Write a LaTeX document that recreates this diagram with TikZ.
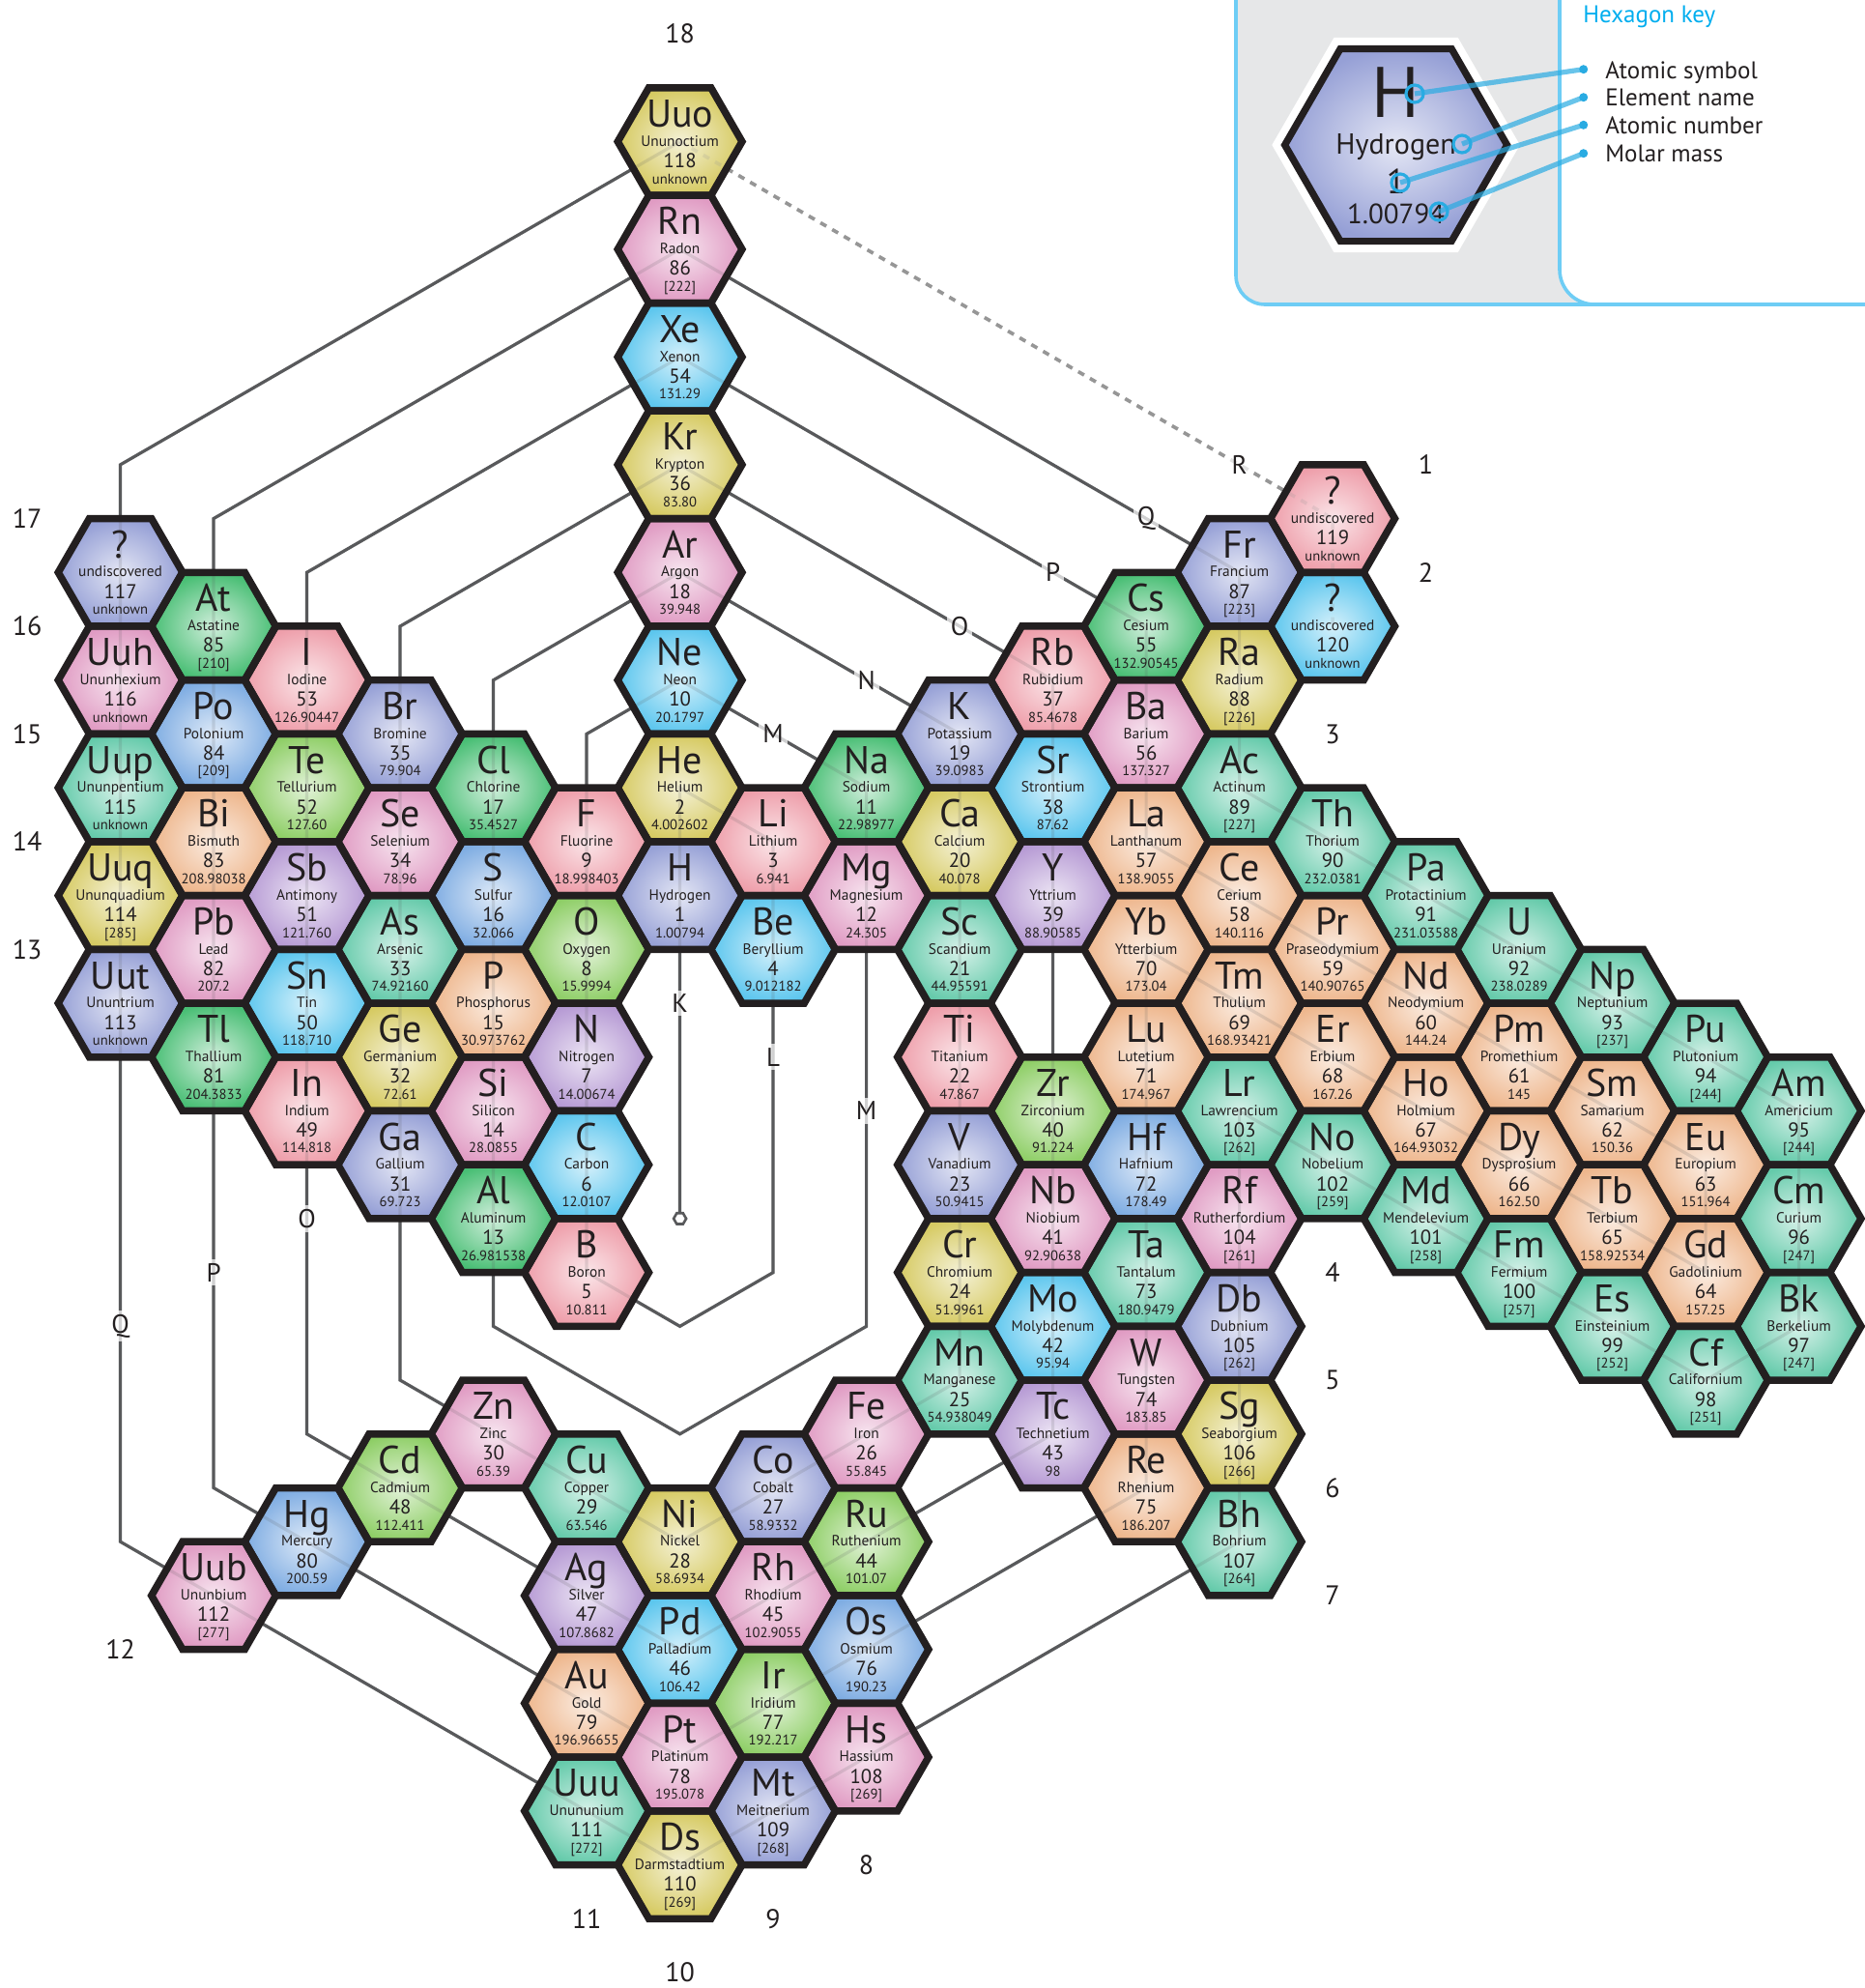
\documentclass[tikz,border=0pt]{standalone}
\usepackage{fontspec}
\setmainfont{PT Sans}
\usetikzlibrary{shapes.geometric}
\definecolor{pinkC}{RGB}{224,155,195}
\definecolor{salmonC}{RGB}{238,158,170}
\definecolor{yellowC}{RGB}{214,202,98}
\definecolor{cyanC}{RGB}{92,198,238}
\definecolor{skyC}{RGB}{126,172,226}
\definecolor{lavC}{RGB}{150,160,214}
\definecolor{purpC}{RGB}{182,154,212}
\definecolor{limeC}{RGB}{142,206,102}
\definecolor{greenC}{RGB}{72,190,116}
\definecolor{mintC}{RGB}{100,202,170}
\definecolor{orangeC}{RGB}{238,182,140}
\definecolor{hexline}{RGB}{35,31,32}
\definecolor{connC}{RGB}{88,89,91}
\definecolor{dashC}{RGB}{150,150,150}
\definecolor{keyline}{RGB}{110,205,245}
\definecolor{keygray}{RGB}{230,231,232}
\definecolor{keycyan}{RGB}{0,174,239}
\definecolor{ptrC}{RGB}{41,171,226}
\def\elemlist{%
0/0/118/Uuo/Ununoctium/unknown/yellowC,
0/2/86/Rn/Radon/[222]/pinkC,
0/4/54/Xe/Xenon/131.29/cyanC,
0/6/36/Kr/Krypton/83.80/yellowC,
0/8/18/Ar/Argon/39.948/pinkC,
0/10/10/Ne/Neon/20.1797/cyanC,
0/12/2/He/Helium/4.002602/yellowC,
0/14/1/H/Hydrogen/1.00794/lavC,
0/26/28/Ni/Nickel/58.6934/yellowC,
0/28/46/Pd/Palladium/106.42/cyanC,
0/30/78/Pt/Platinum/195.078/pinkC,
0/32/110/Ds/Darmstadtium/[269]/yellowC,
1/13/3/Li/Lithium/6.941/salmonC,
1/15/4/Be/Beryllium/9.012182/cyanC,
1/25/27/Co/Cobalt/58.9332/lavC,
1/27/45/Rh/Rhodium/102.9055/pinkC,
1/29/77/Ir/Iridium/192.217/limeC,
1/31/109/Mt/Meitnerium/[268]/lavC,
-1/13/9/F/Fluorine/18.998403/salmonC,
-1/15/8/O/Oxygen/15.9994/limeC,
-1/17/7/N/Nitrogen/14.00674/purpC,
-1/19/6/C/Carbon/12.0107/cyanC,
-1/21/5/B/Boron/10.811/salmonC,
-1/25/29/Cu/Copper/63.546/mintC,
-1/27/47/Ag/Silver/107.8682/purpC,
-1/29/79/Au/Gold/196.96655/orangeC,
-1/31/111/Uuu/Unununium/[272]/mintC,
2/12/11/Na/Sodium/22.98977/greenC,
2/14/12/Mg/Magnesium/24.305/pinkC,
2/24/26/Fe/Iron/55.845/pinkC,
2/26/44/Ru/Ruthenium/101.07/limeC,
2/28/76/Os/Osmium/190.23/skyC,
2/30/108/Hs/Hassium/[269]/pinkC,
3/11/19/K/Potassium/39.0983/lavC,
3/13/20/Ca/Calcium/40.078/yellowC,
3/15/21/Sc/Scandium/44.95591/mintC,
3/17/22/Ti/Titanium/47.867/salmonC,
3/19/23/V/Vanadium/50.9415/lavC,
3/21/24/Cr/Chromium/51.9961/yellowC,
3/23/25/Mn/Manganese/54.938049/mintC,
4/10/37/Rb/Rubidium/85.4678/salmonC,
4/12/38/Sr/Strontium/87.62/cyanC,
4/14/39/Y/Yttrium/88.90585/purpC,
4/18/40/Zr/Zirconium/91.224/limeC,
4/20/41/Nb/Niobium/92.90638/pinkC,
4/22/42/Mo/Molybdenum/95.94/cyanC,
4/24/43/Tc/Technetium/98/purpC,
5/9/55/Cs/Cesium/132.90545/greenC,
5/11/56/Ba/Barium/137.327/pinkC,
5/13/57/La/Lanthanum/138.9055/orangeC,
5/15/70/Yb/Ytterbium/173.04/orangeC,
5/17/71/Lu/Lutetium/174.967/orangeC,
5/19/72/Hf/Hafnium/178.49/skyC,
5/21/73/Ta/Tantalum/180.9479/mintC,
5/23/74/W/Tungsten/183.85/pinkC,
5/25/75/Re/Rhenium/186.207/orangeC,
6/8/87/Fr/Francium/[223]/lavC,
6/10/88/Ra/Radium/[226]/yellowC,
6/12/89/Ac/Actinum/[227]/mintC,
6/14/58/Ce/Cerium/140.116/orangeC,
6/16/69/Tm/Thulium/168.93421/orangeC,
6/18/103/Lr/Lawrencium/[262]/mintC,
6/20/104/Rf/Rutherfordium/[261]/pinkC,
6/22/105/Db/Dubnium/[262]/lavC,
6/24/106/Sg/Seaborgium/[266]/yellowC,
6/26/107/Bh/Bohrium/[264]/mintC,
7/7/119/?/undiscovered/unknown/salmonC,
7/9/120/?/undiscovered/unknown/cyanC,
7/13/90/Th/Thorium/232.0381/mintC,
7/15/59/Pr/Praseodymium/140.90765/orangeC,
7/17/68/Er/Erbium/167.26/orangeC,
7/19/102/No/Nobelium/[259]/mintC,
8/14/91/Pa/Protactinium/231.03588/mintC,
8/16/60/Nd/Neodymium/144.24/orangeC,
8/18/67/Ho/Holmium/164.93032/orangeC,
8/20/101/Md/Mendelevium/[258]/mintC,
9/15/92/U/Uranium/238.0289/mintC,
9/17/61/Pm/Promethium/145/orangeC,
9/19/66/Dy/Dysprosium/162.50/orangeC,
9/21/100/Fm/Fermium/[257]/mintC,
10/16/93/Np/Neptunium/[237]/mintC,
10/18/62/Sm/Samarium/150.36/orangeC,
10/20/65/Tb/Terbium/158.92534/orangeC,
10/22/99/Es/Einsteinium/[252]/mintC,
11/17/94/Pu/Plutonium/[244]/mintC,
11/19/63/Eu/Europium/151.964/orangeC,
11/21/64/Gd/Gadolinium/157.25/orangeC,
11/23/98/Cf/Californium/[251]/mintC,
12/18/95/Am/Americium/[244]/mintC,
12/20/96/Cm/Curium/[247]/mintC,
12/22/97/Bk/Berkelium/[247]/mintC,
-2/12/17/Cl/Chlorine/35.4527/greenC,
-2/14/16/S/Sulfur/32.066/skyC,
-2/16/15/P/Phosphorus/30.973762/orangeC,
-2/18/14/Si/Silicon/28.0855/pinkC,
-2/20/13/Al/Aluminum/26.981538/greenC,
-2/24/30/Zn/Zinc/65.39/pinkC,
-3/11/35/Br/Bromine/79.904/lavC,
-3/13/34/Se/Selenium/78.96/pinkC,
-3/15/33/As/Arsenic/74.92160/mintC,
-3/17/32/Ge/Germanium/72.61/yellowC,
-3/19/31/Ga/Gallium/69.723/lavC,
-3/25/48/Cd/Cadmium/112.411/limeC,
-4/10/53/I/Iodine/126.90447/salmonC,
-4/12/52/Te/Tellurium/127.60/limeC,
-4/14/51/Sb/Antimony/121.760/purpC,
-4/16/50/Sn/Tin/118.710/cyanC,
-4/18/49/In/Indium/114.818/salmonC,
-4/26/80/Hg/Mercury/200.59/skyC,
-5/9/85/At/Astatine/[210]/greenC,
-5/11/84/Po/Polonium/[209]/skyC,
-5/13/83/Bi/Bismuth/208.98038/orangeC,
-5/15/82/Pb/Lead/207.2/pinkC,
-5/17/81/Tl/Thallium/204.3833/greenC,
-5/27/112/Uub/Ununbium/[277]/pinkC,
-6/8/117/?/undiscovered/unknown/lavC,
-6/10/116/Uuh/Ununhexium/unknown/pinkC,
-6/12/115/Uup/Ununpentium/unknown/mintC,
-6/14/114/Uuq/Ununquadium/[285]/yellowC,
-6/16/113/Uut/Ununtrium/unknown/lavC}
\newcommand\drawseq[1]{%
\draw[#1] (k0) -- (e1) -- (e2) -- (e3) -- (e4) -- (l1) -- (l2)
  \foreach \i in {5,...,9}{ -- (e\i)} -- (f1)
  \foreach \i in {10,11,12}{ -- (e\i)} -- (m1) -- (m2) -- (m3)
  \foreach \i in {13,...,17}{ -- (e\i)} -- (cl1)
  \foreach \i in {18,...,30}{ -- (e\i)} -- (zn1)
  \foreach \i in {31,...,35}{ -- (e\i)} -- (br1)
  \foreach \i in {36,...,48}{ -- (e\i)} -- (cd1)
  \foreach \i in {49,...,53}{ -- (e\i)} -- (i1)
  \foreach \i in {54,...,80}{ -- (e\i)} -- (hg1)
  \foreach \i in {81,...,85}{ -- (e\i)} -- (at1)
  \foreach \i in {86,...,112}{ -- (e\i)} -- (ub1)
  \foreach \i in {113,...,117}{ -- (e\i)} -- (q1) -- (e118);}
\begin{document}
\begin{tikzpicture}[x=48.25pt,y=-27.86pt,
  conn/.style={draw=connC,line width=1.6pt,line join=miter},
  connfaint/.style={draw=connC,line width=1.6pt,line join=miter,draw opacity=0.16},
  dashconn/.style={draw=dashC,line width=1.8pt,dash pattern=on 3.5pt off 3.5pt},
  hexborder/.style={draw=hexline,line width=3.75pt,line join=miter},
  symf/.style={anchor=base,inner sep=0pt,text=hexline,font=\fontsize{20}{20}\selectfont},
  namef/.style={anchor=base,inner sep=0pt,text=hexline,font=\fontsize{7.7}{8}\selectfont},
  numf/.style={anchor=base,inner sep=0pt,text=hexline,font=\fontsize{10.4}{11}\selectfont},
  massf/.style={anchor=base,inner sep=0pt,text=hexline,font=\fontsize{7.3}{8}\selectfont},
  grpf/.style={inner sep=0pt,text=hexline,font=\fontsize{14}{14}\selectfont},
  shelllbl/.style={inner sep=2pt,text=hexline,fill=white,fill opacity=0.72,text opacity=1,font=\fontsize{13.5}{14}\selectfont},
  keytxt/.style={anchor=base west,inner sep=0pt,text=hexline,font=\fontsize{12.5}{13}\selectfont},
  ptrline/.style={draw=ptrC,line width=2.6pt,draw opacity=0.7}]
\path[use as bounding box] (-7.2912,-2.6292) rectangle (12.7088,34.2875);
% coordinates
\foreach \c/\r/\n/\s/\nm/\m/\col in \elemlist {\coordinate (e\n) at (\c,\r);}
\coordinate (k0) at (0,20);
\coordinate (l1) at (1,21);
\coordinate (l2) at (0,22);
\coordinate (f1) at (-1,11);
\coordinate (m1) at (2,22);
\coordinate (m2) at (0,24);
\coordinate (m3) at (-2,22);
\coordinate (cl1) at (-2,10);
\coordinate (zn1) at (-3,23);
\coordinate (br1) at (-3,9);
\coordinate (cd1) at (-4,24);
\coordinate (i1) at (-4,8);
\coordinate (hg1) at (-5,25);
\coordinate (at1) at (-5,7);
\coordinate (ub1) at (-6,26);
\coordinate (q1) at (-6,6);
% connectors underneath
\drawseq{conn}
\draw[dashconn] (e118) -- (e119) -- (e120);
% hex fills
\foreach \c/\r/\n/\s/\nm/\m/\col in \elemlist {
  \shade[shift={(\c,\r)},inner color=\col!26!white,outer color=\col]
    (2/3,0) -- (1/3,1) -- (-1/3,1) -- (-2/3,0) -- (-1/3,-1) -- (1/3,-1) -- cycle;}
% faint overlay of the sequence
\drawseq{connfaint}
\draw[dashconn,draw opacity=0.2] (e118) -- (e119) -- (e120);
% hex borders
\foreach \c/\r/\n/\s/\nm/\m/\col in \elemlist {
  \draw[hexborder,shift={(\c,\r)}]
    (2/3,0) -- (1/3,1) -- (-1/3,1) -- (-2/3,0) -- (-1/3,-1) -- (1/3,-1) -- cycle;}
% texts
\foreach \c/\r/\n/\s/\nm/\m/\col in \elemlist {
  \node[symf] (s\n) at ([yshift=7.5pt]e\n) {\s};
  \node[namef] (n\n) at ([yshift=-2.35pt]e\n) {\nm};
  \node[numf] (z\n) at ([yshift=-13.5pt]e\n) {\n};
  \node[massf] (w\n) at ([yshift=-21.75pt]e\n) {\m};}
% start marker
\node[regular polygon,regular polygon sides=6,draw=connC,fill=white,line width=1.3pt,minimum size=6.5pt,inner sep=0pt] (start) at (k0) {};
% shell labels
\node[shelllbl] (lK) at (0,16) {K};
\node[shelllbl] (lL) at (1,17) {L};
\node[shelllbl] (lM1) at (1,11) {M};
\node[shelllbl] (lM2) at (2,18) {M};
\node[shelllbl] (lN) at (2,10) {N};
\node[shelllbl] (lO1) at (3,9) {O};
\node[shelllbl] (lO2) at (-4,20) {O};
\node[shelllbl] (lP1) at (4,8) {P};
\node[shelllbl] (lP2) at (-5,21) {P};
\node[shelllbl] (lQ1) at (5,7) {Q};
\node[shelllbl] (lQ2) at (-6,22) {Q};
\node[shelllbl] (lR) at (6,6) {R};
% group numbers
\node[grpf] (g18) at (0,-2) {18};
\node[grpf] (g1) at (8,6) {1};
\node[grpf] (g2) at (8,8) {2};
\node[grpf] (g3) at (7,11) {3};
\node[grpf] (g4) at (7,21) {4};
\node[grpf] (g5) at (7,23) {5};
\node[grpf] (g6) at (7,25) {6};
\node[grpf] (g7) at (7,27) {7};
\node[grpf] (g8) at (2,32) {8};
\node[grpf] (g9) at (1,33) {9};
\node[grpf] (g10) at (0,34) {10};
\node[grpf] (g11) at (-1,33) {11};
\node[grpf] (g12) at (-6,28) {12};
\node[grpf] (g13) at (-7,15) {13};
\node[grpf] (g14) at (-7,13) {14};
\node[grpf] (g15) at (-7,11) {15};
\node[grpf] (g16) at (-7,9) {16};
\node[grpf] (g17) at (-7,7) {17};
% key
\begin{scope}[shift={(-7.2912,-2.6292)},x=0.5pt,y=-0.5pt]
  \fill[keygray,rounded corners=15pt] (1279,-40) -- (1279,315) -- (1980,315) -- (1980,-40) -- cycle;
  \draw[draw=keyline,line width=1.8pt,rounded corners=15pt] (1279,-40) -- (1279,315) -- (1980,315);
  \fill[white,rounded corners=18pt] (1614,-40) -- (1614,315) -- (1980,315) -- (1980,-40) -- cycle;
  \draw[draw=keyline,line width=1.8pt,rounded corners=18pt] (1614,-40) -- (1614,315) -- (1980,315);
  \draw[white,line width=11.5pt,line join=miter,shift={(1444.6,150)}]
    (115,0) -- (57.5,99.6) -- (-57.5,99.6) -- (-115,0) -- (-57.5,-99.6) -- (57.5,-99.6) -- cycle;
  \shade[inner color=lavC!26!white,outer color=lavC,shift={(1444.6,150)}]
    (115,0) -- (57.5,99.6) -- (-57.5,99.6) -- (-115,0) -- (-57.5,-99.6) -- (57.5,-99.6) -- cycle;
  \draw[hexline,line width=3.6pt,line join=miter,shift={(1444.6,150)}]
    (115,0) -- (57.5,99.6) -- (-57.5,99.6) -- (-115,0) -- (-57.5,-99.6) -- (57.5,-99.6) -- cycle;
  \node[anchor=base,inner sep=0pt,text=hexline,font=\fontsize{37}{37}\selectfont] (kH) at (1444.6,121) {H};
  \node[anchor=base,inner sep=0pt,text=hexline,font=\fontsize{15}{15}\selectfont] (kName) at (1444.6,159) {Hydrogen};
  \node[anchor=base,inner sep=0pt,text=hexline,font=\fontsize{18}{18}\selectfont] (kNum) at (1444.6,200) {1};
  \node[anchor=base,inner sep=0pt,text=hexline,font=\fontsize{14.5}{15}\selectfont] (kMass) at (1444.6,231.5) {1.00794};
  \coordinate (c1) at (1464,97);
  \coordinate (c2) at (1513,149);
  \coordinate (c3) at (1449,189);
  \coordinate (c4) at (1489,219);
  \coordinate (d1) at (1638.7,71.7);
  \coordinate (d2) at (1638.7,100.7);
  \coordinate (d3) at (1638.7,129.3);
  \coordinate (d4) at (1638.7,158.7);
  \draw[ptrline] (c1) -- (d1);
  \draw[ptrline] (c2) -- (d2);
  \draw[ptrline] (c3) -- (d3);
  \draw[ptrline] (c4) -- (d4);
  \foreach \k in {1,2,3,4} {
    \draw[ptrC,line width=1.6pt] (c\k) circle (9);
    \fill[ptrC] (d\k) circle (4.5);}
  \node[anchor=base west,inner sep=0pt,text=keycyan,font=\fontsize{12.5}{13}\selectfont] (ktitle) at (1638,23) {Hexagon key};
  \node[keytxt] (t1) at (1661,81) {Atomic symbol};
  \node[keytxt] (t2) at (1661,109.5) {Element name};
  \node[keytxt] (t3) at (1661,138.5) {Atomic number};
  \node[keytxt] (t4) at (1661,167) {Molar mass};
\end{scope}
\end{tikzpicture}
\end{document}
